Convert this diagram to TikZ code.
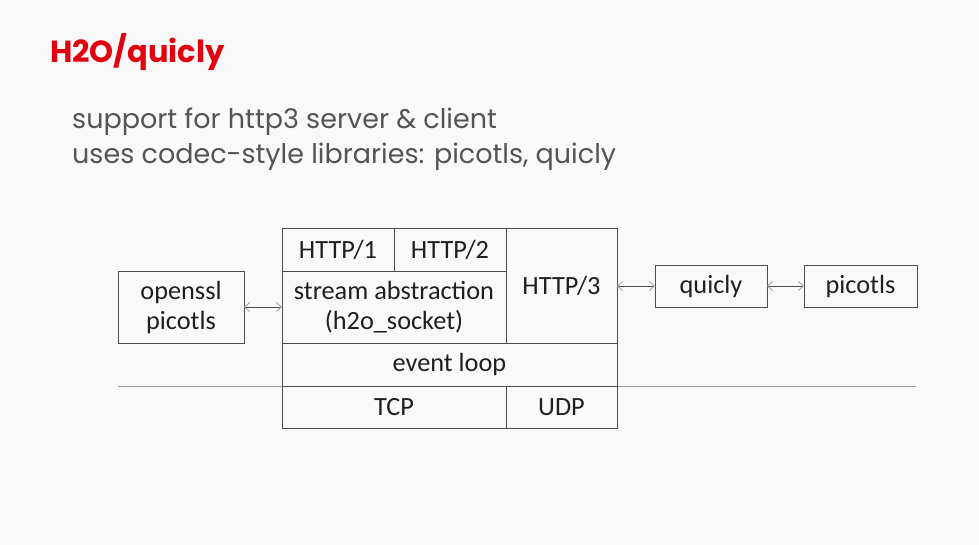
\documentclass[tikz,border=0pt]{standalone}
\usepackage{fontspec}
\setmainfont{Carlito}
\newfontfamily\pop{Poppins}
\usetikzlibrary{arrows.meta}
\definecolor{bg}{HTML}{F8F9F8}
\definecolor{ttl}{HTML}{E2000F}
\definecolor{bodyc}{HTML}{545454}
\definecolor{ln}{HTML}{4D4D4D}
\definecolor{rule}{HTML}{9A9A9A}
\begin{document}
\begin{tikzpicture}[x=1pt,y=-1pt,
  box/.style={draw=ln, line width=1pt, inner sep=0pt, outer sep=0pt,
    font=\fontsize{26.3}{30}\selectfont, text=black!88, align=center},
  subtxt/.style={anchor=base west, inner sep=0pt, text=bodyc, font=\pop\fontsize{27}{35}\selectfont},
  barb/.tip={Straight Barb[length=5pt,width=9pt,color=gray!75]},
  arr/.style={draw=ln, line width=0.8pt, barb-barb}]
\path[fill=bg] (0,0) rectangle (979,545);
\node[anchor=base west, inner sep=0pt, text=ttl, font=\pop\bfseries\fontsize{30.5}{30}\selectfont] (title) at (50,63) {H2O/quicly};
\node[subtxt] (sub1) at (72,129) {support for http3 server \& client};
\node[subtxt] (sub2) at (72,164) {uses codec-style libraries: picotls, quicly};
\coordinate (rl) at (118,386);
\coordinate (rr) at (916,386);
\draw[rule, line width=1pt] (rl) -- (rr);
\node[box, minimum width=112pt, minimum height=42pt] (h1) at (338,250) {HTTP/1};
\node[box, minimum width=112pt, minimum height=42pt] (h2) at (450,250) {HTTP/2};
\node[box, minimum width=111pt, minimum height=114pt] (h3) at (561.5,286) {HTTP/3};
\node[box, minimum width=224pt, minimum height=72pt] (stream) at (394,307) {stream abstraction\\(h2o\_socket)};
\node[box, minimum width=335pt, minimum height=43pt] (ev) at (449.5,364.5) {event loop};
\node[box, minimum width=224pt, minimum height=42pt] (tcp) at (394,407) {TCP};
\node[box, minimum width=111pt, minimum height=42pt] (udp) at (561.5,407) {UDP};
\node[box, minimum width=126pt, minimum height=72pt] (ssl) at (181,307) {openssl\\picotls};
\node[box, minimum width=112pt, minimum height=42pt] (quicly) at (711,286) {quicly};
\node[box, minimum width=113pt, minimum height=42pt] (pico) at (860.5,286) {picotls};
\draw[arr] (ssl.east) -- (stream.west);
\draw[arr] (h3.east |- quicly.west) -- (quicly.west);
\draw[arr] (quicly.east) -- (pico.west);
\end{tikzpicture}
\end{document}
